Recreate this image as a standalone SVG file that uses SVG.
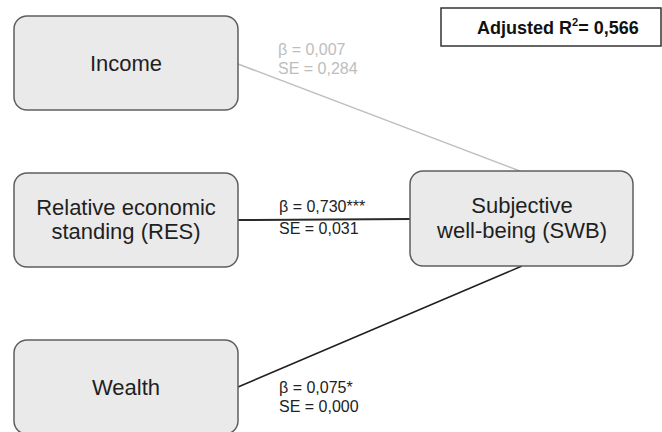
<svg xmlns="http://www.w3.org/2000/svg" width="662" height="432" viewBox="0 0 662 432">
  <style>
    .node rect { fill: #eaeaea; stroke: #5f5f5f; stroke-width: 1.5; }
    .node text { font-family: "Liberation Sans", Arial, sans-serif; font-size: 22px; fill: #1f1f1f; text-anchor: middle; }
    .lbl { font-family: "Liberation Sans", Arial, sans-serif; font-size: 16px; }
    .dark { fill: #222222; }
    .gray { fill: #bdbdbd; }
  </style>
  <rect width="662" height="432" fill="#ffffff"/>
  <g id="connectors" fill="none">
    <line x1="238" y1="64" x2="520" y2="171" stroke="#bfbfbf" stroke-width="1.5"/>
    <line x1="238" y1="220" x2="410" y2="219" stroke="#2a2a2a" stroke-width="2"/>
    <line x1="238" y1="387" x2="522" y2="266" stroke="#1f1f1f" stroke-width="1.5"/>
  </g>
  <g id="node-income" class="node">
    <rect x="14" y="16" width="224" height="94" rx="13"/>
    <text x="126" y="71">Income</text>
  </g>
  <g id="node-res" class="node">
    <rect x="14" y="173" width="224" height="94" rx="13"/>
    <text x="126" y="215">Relative economic</text>
    <text x="126" y="239">standing (RES)</text>
  </g>
  <g id="node-wealth" class="node">
    <rect x="14" y="340" width="224" height="94" rx="13"/>
    <text x="126" y="395">Wealth</text>
  </g>
  <g id="node-swb" class="node">
    <rect x="410" y="171" width="223" height="95" rx="13"/>
    <text x="522" y="213">Subjective</text>
    <text x="522" y="238">well-being (SWB)</text>
  </g>
  <g id="labels">
    <text class="lbl gray" x="278" y="55">β = 0,007</text>
    <text class="lbl gray" x="278" y="74">SE = 0,284</text>
    <text class="lbl dark" x="279" y="212">β = 0,730***</text>
    <text class="lbl dark" x="279" y="234">SE = 0,031</text>
    <text class="lbl dark" x="279" y="393">β = 0,075*</text>
    <text class="lbl dark" x="279" y="412">SE = 0,000</text>
  </g>
  <g id="r2-box">
    <rect x="441" y="8" width="220" height="38" fill="#ffffff" stroke="#333333" stroke-width="1.5"/>
    <text x="477" y="34" font-family="&quot;Liberation Sans&quot;, Arial, sans-serif" font-size="18" font-weight="bold" fill="#111111">Adjusted R<tspan font-size="11" dy="-8">2</tspan><tspan dy="8">= 0,566</tspan></text>
  </g>
</svg>
